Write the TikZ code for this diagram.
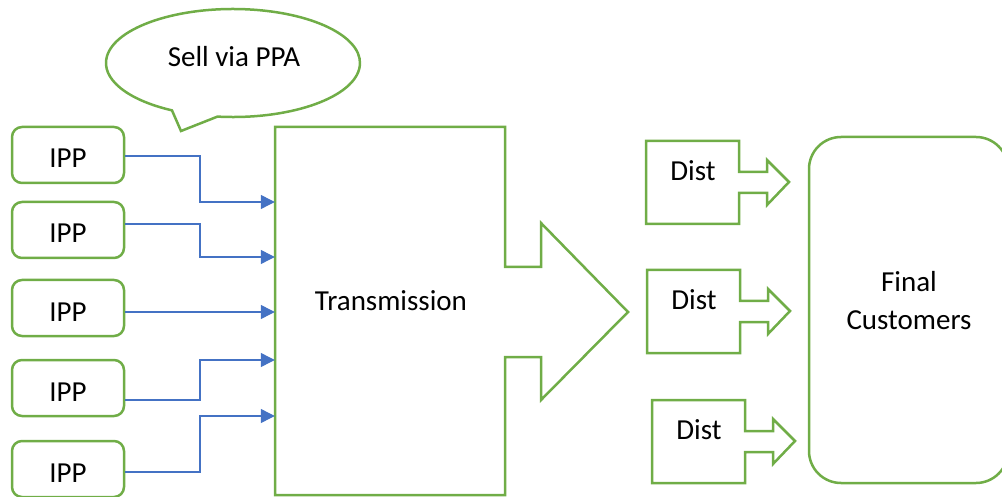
\documentclass[tikz,border=0pt]{standalone}
\usepackage{fontspec}
\setmainfont{Carlito}
\usetikzlibrary{arrows.meta}
\definecolor{leafgreen}{HTML}{70AD47}
\definecolor{wireblue}{HTML}{4472C4}

\begin{document}
\begin{tikzpicture}[x=1pt, y=-1pt, font=\fontsize{29}{38}\selectfont,
    outline/.style={draw=leafgreen, line width=2.5pt},
    ippbox/.style={outline, rounded corners=10pt, minimum width=112pt, minimum height=56pt,
        text height=26pt, text depth=0pt, inner sep=0pt},
    custbox/.style={outline, rounded corners=32pt, minimum width=199pt, minimum height=346pt},
    feed/.style={draw=wireblue, line width=1.2pt, -{Triangle[length=14pt, width=14pt]}}]
    \useasboundingbox (0,0) rectangle (1002,497);

    % Speech bubble
    \draw[outline] (217.5,116.6) arc[start angle=97, end angle=-241.3, x radius=127, y radius=54]
        -- (181,131) -- cycle;
    \node (ppa) at (234,57) {Sell via PPA};

    % Producers
    \foreach \i/\y in {1/155, 2/230, 3/308, 4/388, 5/469}
        \node[ippbox] (ipp\i) at (68,\y) {IPP};

    % Transmission block arrow
    \node[inner sep=0pt, minimum width=230pt, minimum height=368pt] (trans) at (390,311) {};
    \draw[outline] (275,127) -- (505,127) -- (505,267) -- (541,267) -- (541,223) -- (628,312)
        -- (541,400) -- (541,357) -- (505,357) -- (505,495) -- (275,495) -- cycle;
    \node (translabel) at (391,301) {Transmission};

    % Feeds into transmission
    \foreach \i/\sy/\ty in {1/156/202, 2/224/257, 3/312/312, 4/400/360, 5/472/416}
        \draw[feed] (ipp\i.east |- 0,\sy) -| (200,\ty) -- (trans.west |- 0,\ty);

    % Distribution
    \foreach \dx/\dy [count=\i] in {646/141, 647/270, 652/400} {
        \draw[outline] (\dx,\dy) -- ++(93,0) -- ++(0,31) -- ++(28,0) -- ++(0,-12) -- ++(22,22)
            -- ++(-22,23) -- ++(0,-12) -- ++(-28,0) -- ++(0,31) -- ++(-93,0) -- cycle;
        \node (dist\i) at (\dx+47,\dy+30) {Dist};
    }

    % Final customers
    \node[custbox] (cust) at (908.5,310) {};
    \node[align=center] (custlabel) at (909,301) {Final\\Customers};
\end{tikzpicture}
\end{document}
